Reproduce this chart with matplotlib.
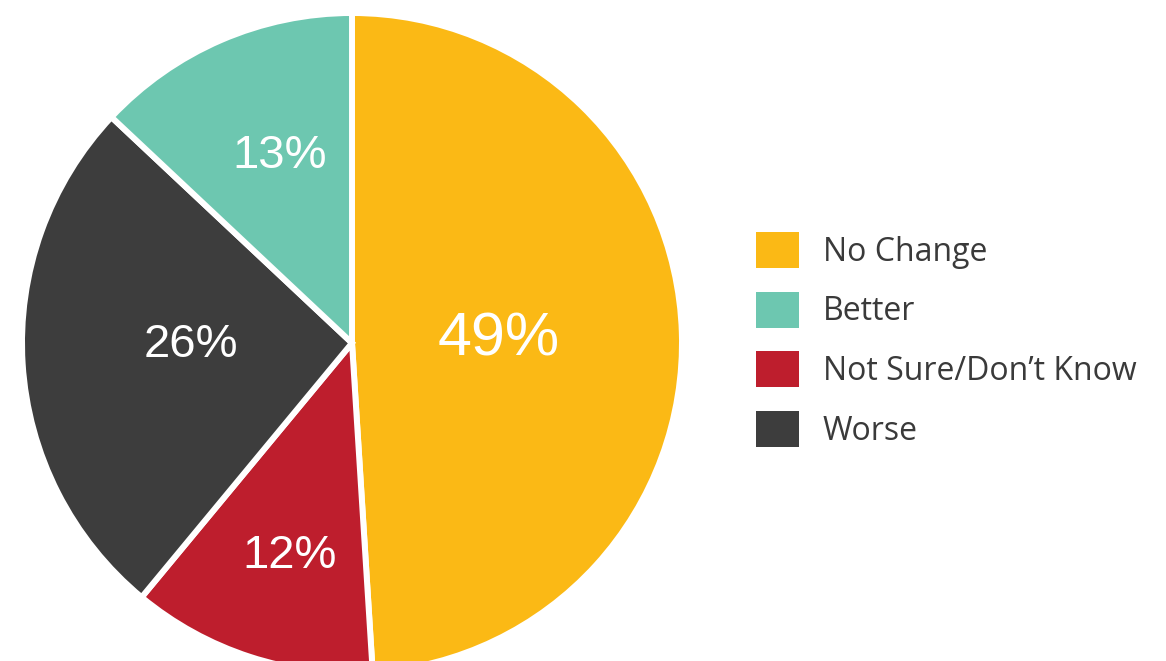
import numpy as np
import matplotlib
matplotlib.use("Agg")
import matplotlib.pyplot as plt
from matplotlib.patches import Patch

# Ответы в порядке обхода круга (по часовой стрелке от 12 часов)
labels = ["No Change", "Not Sure/Don\u2019t Know", "Worse", "Better"]
values = [49, 12, 26, 13]
colors = ["#FBB915", "#BE1E2D", "#3D3D3D", "#6DC7B0"]

# Порядок в легенде
legend_order = ["No Change", "Better", "Not Sure/Don\u2019t Know", "Worse"]

# Где ставить подпись процента: доля радиуса и сдвиг угла от середины сектора
pct_radius = [0.446, 0.658, 0.489, 0.621]
pct_shift = [1.7, 1.4, -4.8, -2.8]

W, H = 1166, 661
fig = plt.figure(figsize=(W / 100, H / 100), dpi=100)
ax = fig.add_axes([0, 0, 1, 1])

cx, cy, r = 352, H - 343, 330
wedges, _texts, autotexts = ax.pie(
    values, colors=colors, startangle=90, counterclock=False,
    center=(cx, cy), radius=r,
    autopct=lambda p: f"{p:.0f}%",
    wedgeprops={"edgecolor": "white", "linewidth": 4.3},
)
ax.set_xlim(0, W)
ax.set_ylim(0, H)
ax.set_aspect("equal")
ax.axis("off")

sizes = [44 if v == max(values) else 34 for v in values]
for w, t, k, d, fs in zip(wedges, autotexts, pct_radius, pct_shift, sizes):
    mid = np.deg2rad((w.theta1 + w.theta2) / 2 + d)
    # по базовой линии, центр цифр — на половине высоты заглавных
    cap = 0.716 * fs * 100 / 72
    t.set_position((cx + k * r * np.cos(mid),
                    cy + k * r * np.sin(mid) - cap / 2))
    t.set_color("white")
    t.set_fontsize(fs)
    t.set_family("Liberation Sans")
    t.set_ha("center")
    t.set_va("baseline")

handles = [Patch(facecolor=colors[labels.index(n)], edgecolor="none")
           for n in legend_order]
fs_leg = 23
fpx = fs_leg * 100 / 72
leg = ax.legend(
    handles, legend_order, loc="upper left",
    bbox_to_anchor=(756 / W, 1 - 232 / H), bbox_transform=fig.transFigure,
    frameon=False, borderpad=0, borderaxespad=0,
    handlelength=43 / fpx, handleheight=(36 / fpx - 0.245) / 0.65,
    handletextpad=24 / fpx, labelspacing=0.72,
    prop={"family": "Open Sans", "size": fs_leg},
)
for t in leg.get_texts():
    t.set_color("#3A3A3A")

fig.savefig("out.png", dpi=100, facecolor="white")
plt.close(fig)
